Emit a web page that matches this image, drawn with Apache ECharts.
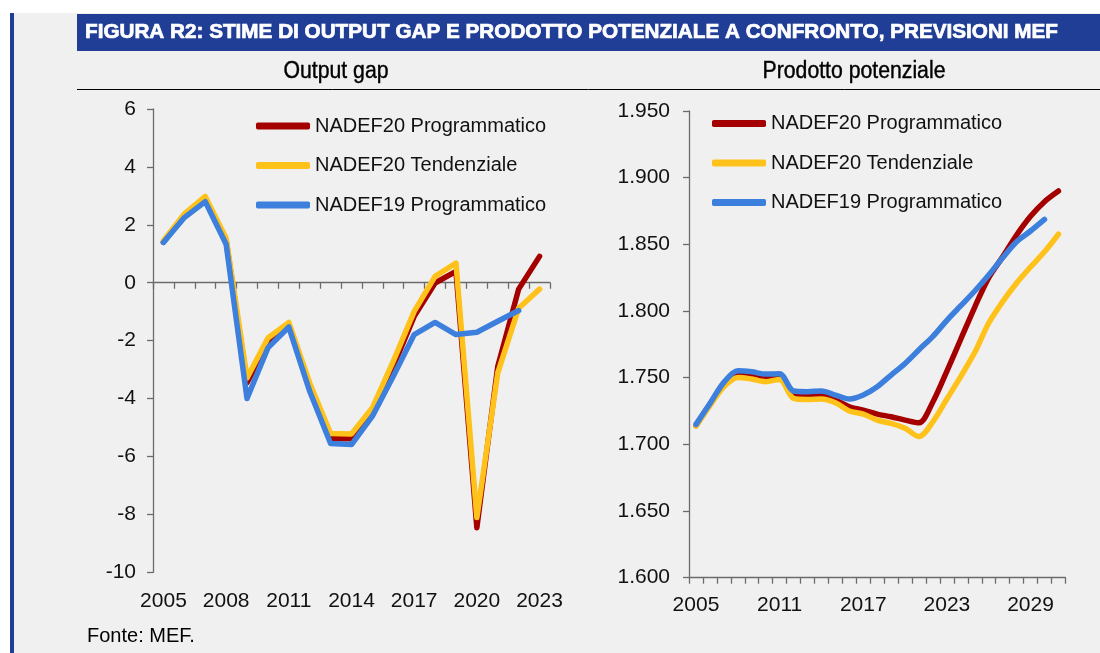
<!DOCTYPE html>
<html>
<head>
<meta charset="utf-8">
<script src="https://cdn.jsdelivr.net/npm/echarts@6/dist/echarts.min.js"></script>
<style>
html,body{margin:0;padding:0;background:#fff;}
#chart{width:1100px;height:653px;}
</style>
</head>
<body>
<div id="chart"></div>
<script>
// ---------- DATA ----------
const yearsGap = ['2005','2006','2007','2008','2009','2010','2011','2012','2013','2014','2015','2016','2017','2018','2019','2020','2021','2022','2023'];
const gapProg20 = [1.40, 2.35, 2.90, 1.45, -3.45, -2.08, -1.45, -3.60, -5.39, -5.39, -4.45, -2.89, -1.16, -0.01, 0.39, -8.46, -2.89, -0.22, 0.91];
const gapTend20 = [1.45, 2.38, 2.98, 1.54, -3.29, -1.91, -1.37, -3.46, -5.21, -5.22, -4.32, -2.71, -0.99, 0.22, 0.68, -8.11, -3.11, -0.88, -0.22];
const gapProg19 = [1.39, 2.25, 2.80, 1.33, -4.00, -2.25, -1.53, -3.75, -5.55, -5.59, -4.61, -3.23, -1.79, -1.37, -1.79, -1.71, -1.33, -0.96, null];

const yearsPot = ['2005','2006','2007','2008','2009','2010','2011','2012','2013','2014','2015','2016','2017','2018','2019','2020','2021','2022','2023','2024','2025','2026','2027','2028','2029','2030','2031'];
const potProg20 = [1714, 1730, 1745, 1753, 1752, 1750, 1751, 1737, 1736.4, 1736.4, 1733.2, 1728.2, 1725.7, 1722.7, 1720.7, 1718.2, 1716.2, 1732, 1755, 1779, 1803, 1825, 1840.6, 1857, 1871, 1882, 1890];
const potTend20 = [1713.7, 1729, 1743.2, 1750.2, 1749, 1747, 1748.7, 1734.5, 1733.7, 1734, 1731.2, 1725, 1722.7, 1718.2, 1715.7, 1712, 1705.8, 1717, 1734, 1751, 1769, 1791, 1807, 1821, 1833, 1844.4, 1857.6];
const potProg19 = [1715, 1730.7, 1746.5, 1755.2, 1754.4, 1752.7, 1752.9, 1740, 1739.5, 1740, 1737, 1734, 1737, 1743.2, 1752, 1760.7, 1771, 1781, 1793, 1804, 1815, 1827, 1840, 1852, 1860, 1868.7, null];

const seriesNames = ['NADEF20 Programmatico', 'NADEF20 Tendenziale', 'NADEF19 Programmatico'];
const titleText = 'FIGURA R2: STIME DI OUTPUT GAP E PRODOTTO POTENZIALE A CONFRONTO, PREVISIONI MEF';
const subLeft = 'Output gap';
const subRight = 'Prodotto potenziale';
const sourceText = 'Fonte: MEF.';

// ---------- STYLE ----------
const C_RED = '#a50000', C_YEL = '#ffc21a', C_BLU = '#3c7fdc';
const NAVY = '#213e96';
const FONT = '"Liberation Sans", Arial, sans-serif';
const AXIS_C = '#6b6b6b';

function measure(text, font) {
  const c = document.createElement('canvas').getContext('2d');
  c.font = font;
  return c.measureText(text).width;
}
const titleFont = 'bold 20px "Liberation Sans"';
const titleScale = 973 / measure(titleText, titleFont);
const subFont = '23px "Liberation Sans"';
const subScale = 105 / measure(subLeft, subFont);

const chart = echarts.init(document.getElementById('chart'), null, {renderer: 'canvas'});

function lineSeries(name, data, color, xi, yi, smooth) {
  return {
    name: name, type: 'line', data: data, xAxisIndex: xi, yAxisIndex: yi,
    symbol: 'none', smooth: smooth, connectNulls: false,
    lineStyle: {color: color, width: 5.5, cap: 'round', join: 'round'},
    itemStyle: {color: color}
  };
}

const legendCommon = {
  orient: 'vertical', icon: 'roundRect', itemWidth: 54, itemHeight: 7,
  itemGap: 19.5, padding: 0, selectedMode: false,
  textStyle: {fontFamily: FONT, fontSize: 20, color: '#111', lineHeight: 20},
  data: seriesNames
};

const option = {
  animation: false,
  backgroundColor: '#f0f0f0',
  graphic: [
    {type: 'rect', shape: {x: 0, y: 0, width: 1100, height: 13}, style: {fill: '#fff'}, silent: true},
    {type: 'rect', shape: {x: 0, y: 0, width: 10, height: 653}, style: {fill: '#fff'}, silent: true},
    {type: 'rect', shape: {x: 10, y: 13, width: 4, height: 640}, style: {fill: NAVY}, silent: true},
    {type: 'rect', shape: {x: 77, y: 14, width: 1023, height: 37}, style: {fill: NAVY}, silent: true},
    {type: 'line', shape: {x1: 77, y1: 89.5, x2: 1100, y2: 89.5}, style: {stroke: '#000', lineWidth: 1}, silent: true},
    {type: 'text', x: 85, y: 32.5, scaleX: titleScale,
      style: {text: titleText, font: titleFont, fill: '#fff', stroke: '#fff', lineWidth: 0.7, align: 'left', verticalAlign: 'middle'}},
    {type: 'text', x: 336, y: 71.5, scaleX: subScale,
      style: {text: subLeft, font: subFont, fill: '#000', stroke: '#000', lineWidth: 0.4, align: 'center', verticalAlign: 'middle'}},
    {type: 'text', x: 854, y: 71.5, scaleX: subScale,
      style: {text: subRight, font: subFont, fill: '#000', stroke: '#000', lineWidth: 0.4, align: 'center', verticalAlign: 'middle'}},
    {type: 'text', x: 87, y: 636.5,
      style: {text: sourceText, font: '20px "Liberation Sans"', fill: '#000', align: 'left', verticalAlign: 'middle'}}
  ],
  legend: [
    Object.assign({left: 256, top: 116}, legendCommon),
    Object.assign({left: 712, top: 113.5}, legendCommon)
  ],
  grid: [
    {left: 153, top: 109, width: 397, height: 463.3, containLabel: false},
    {left: 689, top: 111, width: 376.4, height: 466.7, containLabel: false}
  ],
  xAxis: [
    {gridIndex: 0, type: 'category', data: yearsGap, position: 'bottom', boundaryGap: true,
      axisLine: {show: false, onZero: false}, axisTick: {show: false},
      axisLabel: {interval: 2, margin: 18, fontFamily: FONT, fontSize: 21, color: '#111'},
      splitLine: {show: false}},
    {gridIndex: 0, type: 'category', data: yearsGap, position: 'top', boundaryGap: true,
      axisLine: {show: true, onZero: true, lineStyle: {color: AXIS_C, width: 1.3}},
      axisTick: {show: true, inside: true, length: 6, interval: 0, lineStyle: {color: AXIS_C, width: 1.3}},
      axisLabel: {show: false}, splitLine: {show: false}},
    {gridIndex: 1, type: 'category', data: yearsPot, position: 'bottom', boundaryGap: true,
      axisLine: {show: true, onZero: false, lineStyle: {color: AXIS_C, width: 1.3}},
      axisTick: {show: true, length: 6, interval: 0, lineStyle: {color: AXIS_C, width: 1.3}},
      axisLabel: {interval: 5, margin: 17, fontFamily: FONT, fontSize: 21, color: '#111'},
      splitLine: {show: false}}
  ],
  yAxis: [
    {gridIndex: 0, type: 'value', min: -10, max: 6, interval: 2,
      axisLine: {show: true, lineStyle: {color: AXIS_C, width: 1.3}},
      axisTick: {show: true, length: 6, lineStyle: {color: AXIS_C, width: 1.3}},
      axisLabel: {margin: 17, fontFamily: FONT, fontSize: 21, color: '#111'},
      splitLine: {show: false}},
    {gridIndex: 1, type: 'value', min: 1600, max: 1950, interval: 50,
      axisLine: {show: true, lineStyle: {color: AXIS_C, width: 1.3}},
      axisTick: {show: true, length: 6, lineStyle: {color: AXIS_C, width: 1.3}},
      axisLabel: {margin: 19, fontFamily: FONT, fontSize: 21, color: '#111',
        formatter: v => (v / 1000).toFixed(3)},
      splitLine: {show: false}}
  ],
  series: [
    lineSeries(seriesNames[0], gapProg20, C_RED, 0, 0, false),
    lineSeries(seriesNames[1], gapTend20, C_YEL, 0, 0, false),
    lineSeries(seriesNames[2], gapProg19, C_BLU, 0, 0, false),
    lineSeries(seriesNames[0], potProg20, C_RED, 2, 1, 0.3),
    lineSeries(seriesNames[1], potTend20, C_YEL, 2, 1, 0.3),
    lineSeries(seriesNames[2], potProg19, C_BLU, 2, 1, 0.3)
  ]
};
chart.setOption(option);
</script>
</body>
</html>
